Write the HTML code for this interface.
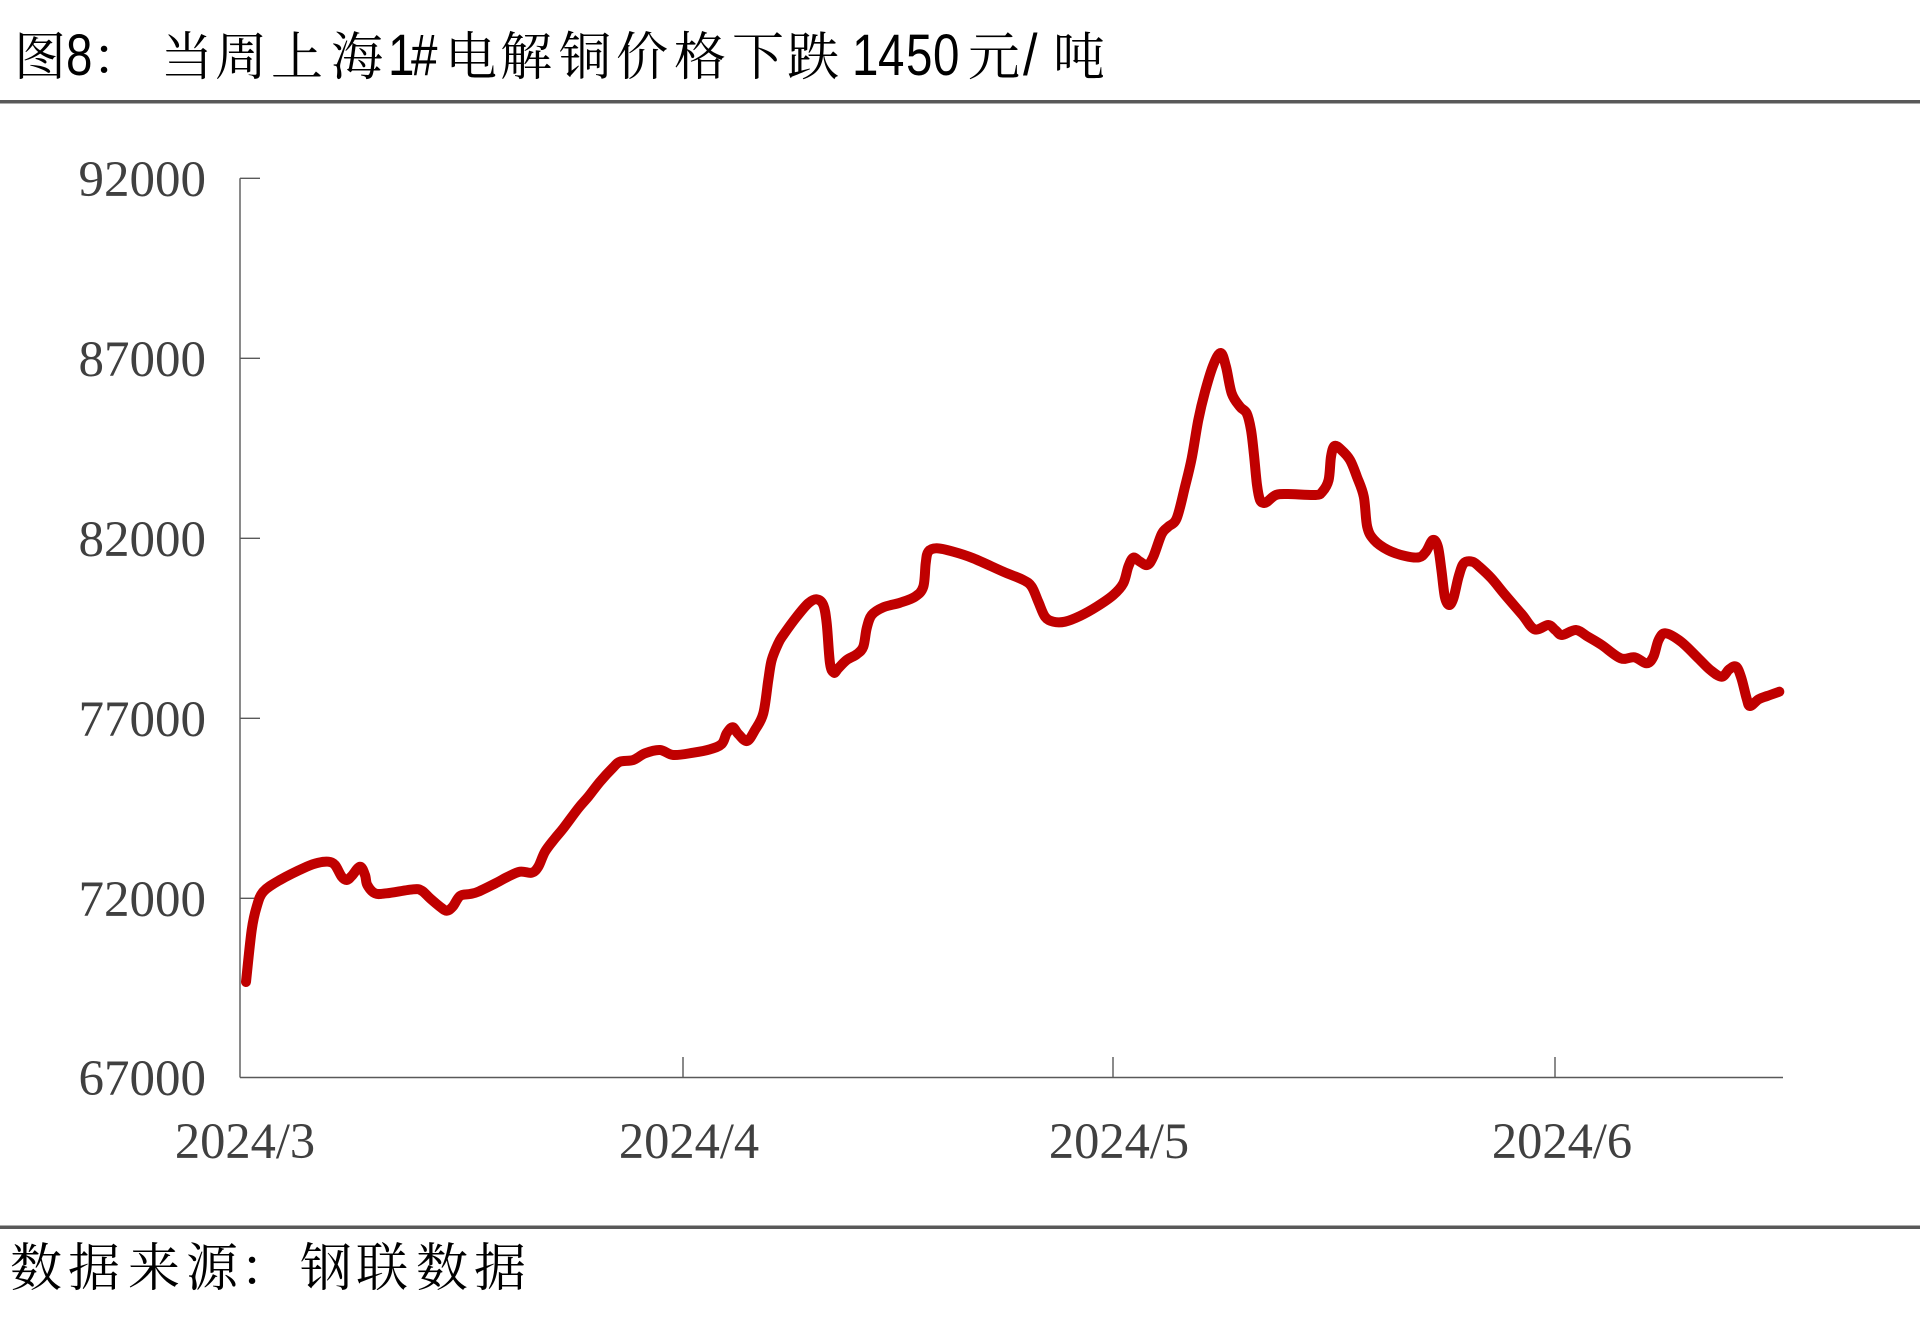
<!DOCTYPE html>
<html>
<head>
<meta charset="utf-8">
<style>
  html, body { margin:0; padding:0; background:#ffffff; }
  body { width:1920px; height:1331px; overflow:hidden; }
  svg { display:block; }
</style>
</head>
<body>
<svg width="1920" height="1331" viewBox="0 0 1920 1331" xmlns="http://www.w3.org/2000/svg">
  <rect x="0" y="0" width="1920" height="1331" fill="#ffffff"/>

  <!-- Title -->
  <g font-family="'Noto Serif CJK SC', 'Noto Sans CJK SC', serif" font-size="52" fill="#000000">
    <text x="14" y="75">图</text>
    <text x="92" y="75">：</text>
    <text x="161 215 271 331" y="75">当周上海</text>
    <text x="445 500 559 616 674 732 787" y="75">电解铜价格下跌</text>
    <text x="968" y="75">元</text>
    <text x="1053" y="75">吨</text>
  </g>
  <g font-family="'Liberation Sans', Arial, sans-serif" font-size="58" fill="#000000">
    <text transform="translate(66,75) scale(0.82,1)">8</text>
    <text transform="translate(388,75) scale(0.82,1)">1</text>
    <text transform="translate(411,75) scale(0.82,1)">#</text>
    <text transform="translate(852,75) scale(0.82,1)">1</text>
    <text transform="translate(878,75) scale(0.82,1)">4</text>
    <text transform="translate(906,75) scale(0.82,1)">5</text>
    <text transform="translate(933,75) scale(0.82,1)">0</text>
    <text transform="translate(1023,75) scale(0.9,1)">/</text>
  </g>

  <!-- separator lines -->
  <rect x="0" y="100" width="1920" height="3.5" fill="#595959"/>
  <rect x="0" y="1225.5" width="1920" height="3.5" fill="#595959"/>

  <!-- axes -->
  <g stroke="#595959" stroke-width="1.4" fill="none">
    <line x1="240" y1="178.3" x2="240" y2="1077.5"/>
    <line x1="240" y1="1077.5" x2="1783" y2="1077.5"/>
    <line x1="240" y1="178.3" x2="260" y2="178.3"/>
    <line x1="240" y1="358.3" x2="260" y2="358.3"/>
    <line x1="240" y1="538.3" x2="260" y2="538.3"/>
    <line x1="240" y1="718.3" x2="260" y2="718.3"/>
    <line x1="240" y1="898.3" x2="260" y2="898.3"/>
    <line x1="683" y1="1057" x2="683" y2="1077.5"/>
    <line x1="1113" y1="1057" x2="1113" y2="1077.5"/>
    <line x1="1555" y1="1057" x2="1555" y2="1077.5"/>
  </g>

  <!-- y labels -->
  <g font-family="'Liberation Serif', 'Times New Roman', serif" font-size="51" fill="#404040" text-anchor="end">
    <text x="206" y="196">92000</text>
    <text x="206" y="376">87000</text>
    <text x="206" y="556">82000</text>
    <text x="206" y="736">77000</text>
    <text x="206" y="916">72000</text>
    <text x="206" y="1095">67000</text>
  </g>

  <!-- x labels -->
  <g font-family="'Liberation Serif', 'Times New Roman', serif" font-size="50.5" fill="#404040" text-anchor="middle">
    <text x="245" y="1158">2024/3</text>
    <text x="689" y="1158">2024/4</text>
    <text x="1119" y="1158">2024/5</text>
    <text x="1562" y="1158">2024/6</text>
  </g>

  <!-- series -->
  <polyline id="series" fill="none" stroke="#C00000" stroke-width="10" stroke-linejoin="round" stroke-linecap="round"
    points="246,982 251.7,930 256.7,906.7 263.3,891.7 280,880 306.7,866.7 318.3,862.7 328.3,861.7 335,865 341.7,876.7 346.7,880 351.7,876 360,866.7 365,875 367.3,885 375,893.3 386.7,893.3 413.3,889.3 421.7,890.7 430,898.3 440,906.7 446.7,910.7 452.7,906.7 460,896 470,894 478.3,891.7 496.7,882.7 506.7,877.3 520,871.7 531.7,872.7 538.3,866.7 545,851.7 555,838.3 563.3,828.3 578.3,808.3 588.3,796.7 600,781.7 613.3,767.3 620,761.7 633.3,760 645,753.3 660,750 673.3,755 693.3,752.7 710,749.3 721.7,744 726.7,733.3 732.7,727.3 738.3,734 747,741 755,730 763.3,713.3 768.3,680 771.7,660 778.3,643.3 783.3,635 796.7,616.7 808.3,603.3 816.7,599.3 823.3,605 826.7,623.3 830,663.3 834,672.7 838.3,668.3 846.7,660 856.7,654.3 863.3,646.7 866.7,628.3 871.7,615 883.3,607.3 900,602.7 915,596.7 923.3,586.7 925.7,563.3 928.3,551.7 936.7,548.3 953.3,551.7 973.3,558.3 1003.3,571.7 1023.3,580 1031.7,586.7 1038.3,601.7 1045,616.7 1053.3,621.7 1065,621.7 1080,616 1096.7,606.7 1113.3,595 1123.3,583.3 1128.3,566.7 1133.3,557.7 1140,561.7 1147.3,565 1153.3,556.7 1161.7,534 1168.3,526.7 1176.7,518.3 1185,486.7 1191.7,458.3 1198.3,420 1205,391.7 1213.3,365 1220.7,353 1226,366.7 1231.7,393.3 1240,406.7 1246.7,413.3 1251,430 1254,455 1257,485 1260,500 1264,503 1267.2,501.7 1275.9,495 1287.9,494 1315.5,495 1322.4,491.7 1328.6,480 1331,456.7 1334.5,446 1341.4,450 1350,460 1356.9,476.7 1363.8,496.7 1367.2,526.7 1374.1,540 1387.9,550 1405.2,556 1419,557.3 1425.9,551.7 1432.8,540 1437.9,546.7 1441.4,570 1444.8,596.7 1449,605 1453.4,598.3 1458.6,576.7 1463.8,563.3 1472.4,561.7 1479.3,566.7 1491.4,578.3 1505.2,595 1522.4,615 1534.5,629.3 1548.3,625 1555.2,630 1562.1,635 1575.9,630 1587.9,636.7 1601.7,645 1620.7,658.3 1634.5,657.3 1646.6,663.3 1653.4,656.7 1658.6,640 1665.5,633.3 1681,641.7 1698.3,658.3 1710.3,670 1721.7,676.7 1729.3,669.3 1736.2,666.7 1741.4,678.3 1746.6,698.3 1750,706 1758.6,699.3 1767.2,696 1779.3,691.7"/>

  <!-- source -->
  <g font-family="'Noto Serif CJK SC', 'Noto Sans CJK SC', serif" font-size="52" fill="#000000">
    <text x="10 68 128 186 240 300 356 416 474" y="1286">数据来源：钢联数据</text>
  </g>
</svg>
<script>
(function(){
  try {
    var pl = document.getElementById('series');
    var raw = pl.getAttribute('points').trim().split(/\s+/).map(function(s){var a=s.split(',');return [parseFloat(a[0]),parseFloat(a[1])];});
    var n = raw.length, t = 0.5/3;
    var d = 'M' + raw[0][0] + ',' + raw[0][1];
    for (var i = 0; i < n - 1; i++) {
      var p0 = raw[i > 0 ? i - 1 : i], p1 = raw[i], p2 = raw[i + 1], p3 = raw[i + 2 < n ? i + 2 : i + 1];
      var c1x = p1[0] + (p2[0] - p0[0]) * t, c1y = p1[1] + (p2[1] - p0[1]) * t;
      var c2x = p2[0] - (p3[0] - p1[0]) * t, c2y = p2[1] - (p3[1] - p1[1]) * t;
      d += ' C' + c1x.toFixed(2) + ',' + c1y.toFixed(2) + ' ' + c2x.toFixed(2) + ',' + c2y.toFixed(2) + ' ' + p2[0] + ',' + p2[1];
    }
    var path = document.createElementNS('http://www.w3.org/2000/svg', 'path');
    path.setAttribute('d', d);
    path.setAttribute('fill', 'none');
    path.setAttribute('stroke', '#C00000');
    path.setAttribute('stroke-width', '10');
    path.setAttribute('stroke-linejoin', 'round');
    path.setAttribute('stroke-linecap', 'round');
    pl.parentNode.replaceChild(path, pl);
  } catch (e) {}
})();
</script>
</body>
</html>
